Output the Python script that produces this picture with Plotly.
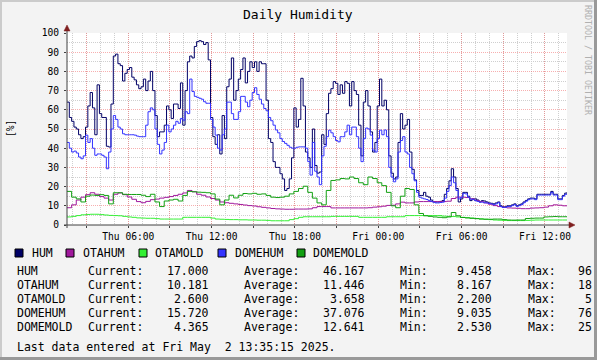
import plotly.graph_objects as go
import pandas as pd

# ---------------- data ----------------
start_time = "2025-05-01 01:35:15"
end_time = "2025-05-02 13:35:15"
step_fine = "10min"     # HUM, DOMEHUM
step_coarse = "20min"   # OTAHUM, OTAMOLD, DOMEMOLD

hum = [64, 56, 54, 51, 50, 47, 45, 46, 51, 62,
       69, 61, 47, 73, 58, 56, 56, 41, 40.6, 63,
       88, 89, 84, 83, 75, 79, 81, 82, 77, 75.6,
       73, 71, 72, 76, 70, 75, 80, 70, 57, 46,
       48.5, 48.5, 52, 62, 60, 55.5, 63, 63, 60.7, 74,
       52, 70, 85, 88, 87, 93, 95.5, 96, 95.5, 94,
       95, 86, 56, 46, 42, 47, 37, 57, 45, 72,
       76, 87, 65, 70, 76, 81, 87, 74, 80, 85,
       82, 85, 80, 85, 84, 84, 65, 45, 43, 33,
       30, 30, 26.7, 24, 18, 19, 24, 35, 61, 51,
       55, 76.4, 62, 38, 35, 30, 50, 31, 27, 27.6,
       47, 42, 58, 68.6, 71, 74.7, 73.8, 68, 73, 68.6,
       74.7, 73.8, 62, 74.7, 70, 68, 52, 36, 64, 70,
       62, 48.5, 38, 43, 62, 76, 62, 65, 60, 36,
       27, 24, 25, 43, 58, 50, 52, 55, 38, 29,
       23.5, 18, 15.4, 15.4, 17, 15, 14.5, 13, 12, 12,
       12, 12.3, 12.7, 16, 19, 23, 29.3, 25, 19, 12,
       13.6, 17, 17, 15, 12.7, 13.6, 13.6, 13, 12, 12.7,
       12.5, 12, 11.5, 11.3, 11, 11.5, 12, 10, 9.5, 9.5,
       10, 10, 10.5, 11, 10, 10.5, 11, 12, 12.8, 13.6,
       14, 14, 13.6, 16, 16, 16, 16, 16, 16, 17.5,
       16, 16, 13.6, 13.6, 15.4, 16.6, 17]

domehum = [43, 40, 38, 38.5, 37.5, 35.4, 34.5, 36, 46.8, 43,
           45, 40, 36.3, 37, 37, 36.3, 35.4, 29.3, 38, 50,
           57, 55, 51, 50, 47.5, 47, 47, 47, 47, 46.8,
           46.3, 46, 46, 46, 52, 59, 61, 60, 50, 42,
           37, 39, 43, 52, 48.5, 50, 52, 54, 53, 55.5,
           54.6, 59, 58, 76, 69.5, 67, 66.5, 66, 65.5, 64.2,
           63.4, 63.4, 55, 51, 46.8, 40, 39, 47, 50, 64,
           64, 58, 55, 55, 59, 67, 67, 64, 61.6, 65,
           69, 71.5, 68, 65.5, 63, 60.7, 59.5, 56, 54.3, 52,
           49.5, 48, 45, 43.5, 42.5, 41.5, 40.5, 40, 40, 40.5,
           40.7, 40.7, 40.7, 40, 33, 26, 43, 28, 25, 21,
           36, 41, 46, 49.4, 48, 46, 44, 43.3, 46, 46,
           48.5, 52, 47, 51, 51, 46, 40, 33, 45, 50.5,
           50, 46.8, 39, 38, 45, 49.4, 47, 49.5, 46, 30,
           25, 22.5, 24, 38, 44, 46, 38, 37, 30, 26.7,
           23, 17, 14.5, 14, 13.6, 13.3, 12.7, 12.3, 11.9, 11.5,
           11.5, 11.7, 11.9, 14, 17.5, 20.5, 25, 22, 18, 13.6,
           14.5, 16.5, 16.2, 14.5, 13.5, 13.3, 12.7, 12.3, 11.9, 11.9,
           11.6, 11.5, 11.2, 11, 10.6, 11, 11.6, 9.6, 9.1, 9.2,
           9.6, 9.6, 10.1, 10.6, 9.7, 10.1, 10.6, 11.6, 12.4, 13.2,
           13.6, 13.6, 13.2, 15.6, 15.6, 15.6, 15.6, 15.6, 15.6, 17,
           15.6, 15.6, 13.2, 13.2, 15, 16, 15.72]

otahum = [9.0, 10.5, 13.0, 14.5, 15.8, 16.8, 16.0, 14.8, 14.0, 13.0,
          16.0, 16.7, 15.8, 14.6, 13.4, 12.2, 11.6, 12.3, 13.2, 13.5,
          14.0, 14.4, 14.8, 15.4, 16.0, 16.7, 18.0, 17.3, 16.0, 15.5,
          14.6, 13.8, 13.0, 12.0, 11.6, 11.3, 11.0, 10.7, 10.4, 10.1,
          9.9, 9.5, 9.2, 8.9, 8.6, 8.4, 8.3, 8.2, 8.2, 8.3,
          8.3, 8.3, 8.4, 9.0, 9.6, 9.6, 9.6, 8.9, 8.9, 8.9,
          8.9, 8.9, 8.9, 8.9, 8.9, 9.0, 9.3, 9.5, 9.8, 10.2,
          10.3, 11.0, 11.9, 11.5, 11.5, 12.0, 12.2, 12.2, 12.2, 12.2,
          12.2, 12.2, 12.4, 13.8, 14.5, 14.5, 14.3, 13.6, 12.8, 12.2,
          11.5, 10.8, 10.1, 9.6, 9.2, 8.9, 8.8, 8.7, 8.5, 8.5,
          8.8, 8.9, 9.0, 9.3, 10.0, 10.5, 10.3, 10.0, 10.2]

otamold = [4.2, 4.5, 4.9, 5.3, 5.5, 5.6, 5.6, 5.4, 5.2, 5.0,
           4.9, 4.8, 4.5, 4.2, 4.0, 3.7, 3.6, 3.5, 3.5, 3.3,
           3.1, 3.1, 3.1, 3.1, 3.1, 4.0, 4.0, 4.0, 4.0, 4.0,
           4.0, 3.6, 3.1, 3.0, 2.9, 2.8, 2.8, 2.7, 2.7, 2.6,
           2.6, 2.5, 2.5, 2.4, 2.2, 2.2, 2.2, 2.2, 2.8, 3.3,
           4.0, 4.3, 4.3, 4.3, 4.3, 4.3, 4.3, 4.5, 4.5, 4.5,
           4.5, 4.5, 4.5, 4.0, 4.0, 4.0, 4.0, 4.0, 4.0, 4.3,
           4.3, 4.3, 4.3, 4.9, 4.9, 4.9, 4.9, 4.9, 4.9, 4.9,
           4.9, 4.6, 4.5, 4.4, 4.2, 4.0, 3.8, 3.6, 3.4, 3.2,
           3.0, 2.8, 2.6, 2.5, 2.4, 2.3, 2.3, 2.3, 2.3, 2.4,
           2.5, 2.6, 2.6, 2.6, 2.6, 2.6, 2.6, 2.6, 2.6]

domemold = [17.5, 14.5, 13.6, 12.0, 15.0, 15.6, 15.4, 15.8, 15.4, 11.0,
            16.8, 16.8, 16.0, 15.9, 15.9, 15.9, 15.5, 14.8, 16.0, 12.0,
            9.6, 12.5, 13.0, 13.4, 12.5, 15.4, 17.5, 17.3, 17.1, 17.0,
            16.8, 16.2, 13.5, 10.5, 13.0, 15.5, 14.1, 15.5, 16.4, 16.2,
            16.5, 16.0, 16.2, 15.4, 14.5, 14.3, 14.5, 15.0, 16.2, 17.5,
            19.0, 20.2, 17.0, 14.0, 11.5, 10.5, 18.0, 23.2, 23.5, 24.2,
            24.0, 25.0, 24.2, 22.0, 21.0, 25.0, 24.2, 22.0, 20.5, 17.0,
            10.0, 9.0, 15.0, 19.0, 18.5, 10.5, 6.0, 4.8, 4.5, 4.2,
            4.0, 3.8, 4.2, 6.5, 4.8, 3.9, 3.7, 3.5, 3.3, 3.1,
            3.0, 3.0, 3.1, 3.1, 2.8, 2.6, 2.55, 2.6, 2.6, 3.4,
            3.5, 3.6, 3.6, 4.2, 4.3, 4.4, 4.3, 4.3, 4.37]

series_names = ["HUM", "OTAHUM", "OTAMOLD", "DOMEHUM", "DOMEMOLD"]
series_values = [hum, otahum, otamold, domehum, domemold]
series_steps = [step_fine, step_coarse, step_coarse, step_fine, step_coarse]
series_colors = ["#000066", "#a0189c", "#33f033", "#3333ff", "#12a012"]

stat_current = ["17.000", "10.181", "2.600", "15.720", "4.365"]
stat_average = ["46.167", "11.446", "3.658", "37.076", "12.641"]
stat_min = ["9.458", "8.167", "2.200", "9.035", "2.530"]
stat_max = ["96", "18", "5", "76", "25"]

x_tickvals = ["2025-05-01 03:00", "2025-05-01 06:00", "2025-05-01 09:00",
              "2025-05-01 12:00", "2025-05-01 15:00", "2025-05-01 18:00",
              "2025-05-01 21:00", "2025-05-02 00:00", "2025-05-02 03:00",
              "2025-05-02 06:00", "2025-05-02 09:00", "2025-05-02 12:00"]
x_ticktext = ["", "Thu 06:00", "", "Thu 12:00", "", "Thu 18:00",
              "", "Fri 00:00", "", "Fri 06:00", "", "Fri 12:00"]

title_text = "Daily Humidity"
y_label = "[%]"
watermark = "RRDTOOL / TOBI OETIKER"
footer = "Last data entered at Fri May  2 13:35:15 2025."

# ---------------- layout helpers ----------------
W, H = 597, 360
PL, PR, PT, PB = 67, 567, 33, 225  # plot area in pixels


def px(x):
    return (x - PL) / (PR - PL)


def py(y):
    return (PB - y) / (PB - PT)


MONO = "DejaVu Sans Mono"
BG = "#f3f3f3"

fig = go.Figure()
for name, vals, stp, col in zip(series_names, series_values, series_steps, series_colors):
    times = pd.date_range(start_time, periods=len(vals), freq=stp)
    fig.add_trace(go.Scatter(x=times, y=vals, mode="lines", name=name,
                             line=dict(color=col, width=1, shape="hv"),
                             hoverinfo="skip"))

major_grid = "rgba(240,110,110,0.55)"
minor_grid = "#cfcfcf"

fig.update_layout(
    width=W, height=H,
    margin=dict(l=PL, r=W - PR, t=PT, b=H - PB, pad=0),
    paper_bgcolor=BG, plot_bgcolor="white",
    showlegend=False,
    font=dict(family=MONO, color="black"),
    xaxis=dict(
        type="date", range=[start_time, end_time],
        tickmode="array", tickvals=x_tickvals, ticktext=x_ticktext,
        showgrid=True, gridcolor=major_grid, griddash="1px,1px", gridwidth=1,
        minor=dict(dtick=3600000, tick0="2025-05-01 00:00", showgrid=True,
                   gridcolor=minor_grid, griddash="1px,1px", gridwidth=1),
        ticks="outside", ticklen=2, tickcolor="#404040",
        tickfont=dict(family=MONO, size=9.6, color="black"),
        showline=False, zeroline=False, fixedrange=True,
    ),
    yaxis=dict(
        range=[0, 100], tickmode="linear", tick0=0, dtick=10,
        showgrid=True, gridcolor=major_grid, griddash="1px,1px", gridwidth=1,
        minor=dict(dtick=5, showgrid=True, gridcolor=minor_grid,
                   griddash="1px,1px", gridwidth=1),
        ticks="outside", ticklen=2, tickcolor="#404040",
        tickfont=dict(family=MONO, size=9.6, color="black"),
        ticklabelstandoff=3,
        showline=False, zeroline=False, fixedrange=True,
    ),
)

shapes = []
# frame of the image (3D shade)
shapes.append(dict(type="line", xref="paper", yref="paper",
                   x0=px(0), x1=px(W), y0=py(1), y1=py(1),
                   line=dict(color="#cbcbcb", width=2)))
shapes.append(dict(type="line", xref="paper", yref="paper",
                   x0=px(1), x1=px(1), y0=py(0), y1=py(H),
                   line=dict(color="#cbcbcb", width=2)))
shapes.append(dict(type="line", xref="paper", yref="paper",
                   x0=px(0), x1=px(W), y0=py(358.5), y1=py(358.5),
                   line=dict(color="#999999", width=3)))
shapes.append(dict(type="line", xref="paper", yref="paper",
                   x0=px(595.5), x1=px(595.5), y0=py(0), y1=py(H),
                   line=dict(color="#999999", width=3)))
# axes with arrows
axis_col = "#404040"
arrow_col = "#7f1f1f"
shapes.append(dict(type="line", xref="paper", yref="paper",
                   x0=px(PL), x1=px(PL), y0=py(PB + 3), y1=py(28),
                   line=dict(color=axis_col, width=1)))
shapes.append(dict(type="line", xref="paper", yref="paper",
                   x0=px(PL - 3), x1=px(571), y0=py(PB), y1=py(PB),
                   line=dict(color=axis_col, width=1)))
shapes.append(dict(type="path", xref="paper", yref="paper",
                   path=f"M {px(PL-3)} {py(31)} L {px(PL+3)} {py(31)} L {px(PL)} {py(25)} Z",
                   fillcolor=arrow_col, line=dict(color=arrow_col, width=0.5)))
shapes.append(dict(type="path", xref="paper", yref="paper",
                   path=f"M {px(569)} {py(PB-3)} L {px(569)} {py(PB+3)} L {px(575)} {py(PB)} Z",
                   fillcolor=arrow_col, line=dict(color=arrow_col, width=0.5)))

# legend swatches
swatch_x = [15, 66, 139, 218, 297]
text_x = [30, 81, 153, 233, 311]
for sx, col in zip(swatch_x, series_colors):
    shapes.append(dict(type="rect", xref="paper", yref="paper",
                       x0=px(sx), x1=px(sx + 8), y0=py(249), y1=py(257),
                       fillcolor=col, line=dict(color="black", width=1)))

annotations = []


def text(x, y, s, size=11.5, anchor="left", color="black", angle=0):
    annotations.append(dict(xref="paper", yref="paper", x=px(x), y=py(y),
                            text=s, showarrow=False, xanchor=anchor,
                            yanchor="middle", textangle=angle,
                            font=dict(family=MONO, size=size, color=color)))


text(298, 14, title_text, size=13, anchor="center")
text(10, 129, y_label, size=9.6, anchor="center", angle=-90)
text(588, 60, watermark, size=8.3, anchor="center", color="#b0b0b0", angle=90)

for tx, name in zip(text_x, series_names):
    text(tx, 253, name)

row_y = [271, 285, 299, 313, 327]
for i, name in enumerate(series_names):
    y = row_y[i]
    text(15, y, name)
    text(86, y, "Current:")
    text(211, y, stat_current[i], anchor="right")
    text(242, y, "Average:")
    text(367, y, stat_average[i], anchor="right")
    text(398, y, "Min:")
    text(494, y, stat_min[i], anchor="right")
    text(526, y, "Max:")
    text(594, y, stat_max[i], anchor="right")

text(15, 347, footer)

fig.update_layout(shapes=shapes, annotations=annotations)

fig.write_html("out.html", config={"displayModeBar": False, "staticPlot": True},
               post_script="document.body.style.margin='0';document.body.style.overflow='hidden';")
